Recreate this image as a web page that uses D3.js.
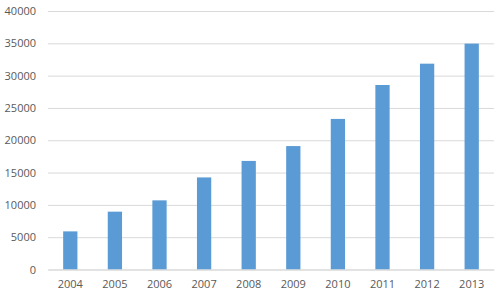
<!DOCTYPE html>
<meta charset="utf-8">
<script src="https://cdn.jsdelivr.net/npm/d3@7"></script>
<style>
  body { margin: 0; background: #fff; }
  .tick text { font-family: "Open Sans", sans-serif; font-size: 11px; fill: #595959; }
</style>
<div id="chart"></div>
<script>
// data
const years = ["2004", "2005", "2006", "2007", "2008", "2009", "2010", "2011", "2012", "2013"];
const counts = [5900, 8950, 10700, 14250, 16800, 19100, 23300, 28550, 31850, 34950];
const yTicks = [0, 5000, 10000, 15000, 20000, 25000, 30000, 35000, 40000];

const width = 500, height = 298;
const margin = {top: 11, right: 6, bottom: 28.5, left: 48};

const svg = d3.select("#chart").append("svg")
  .attr("width", width)
  .attr("height", height);

const x = d3.scaleBand()
  .domain(years)
  .range([margin.left, width - margin.right])
  .paddingInner(0.68)
  .paddingOuter(0.34);

const y = d3.scaleLinear()
  .domain([0, 40000])
  .range([height - margin.bottom, margin.top]);

// gridlines + y labels
const yAxis = svg.append("g")
  .attr("transform", `translate(${margin.left},0)`)
  .call(d3.axisLeft(y).tickValues(yTicks).tickFormat(d3.format("d"))
    .tickSize(-(width - margin.left - margin.right)).tickPadding(12));
yAxis.select(".domain").remove();
yAxis.selectAll(".tick line").attr("stroke", "#d9d9d9");

// bars
svg.append("g").selectAll("rect")
  .data(counts)
  .join("rect")
  .attr("x", (d, i) => x(years[i]))
  .attr("y", d => y(d))
  .attr("width", x.bandwidth())
  .attr("height", d => y(0) - y(d))
  .attr("fill", "#5b9bd5");

// x axis
const xAxis = svg.append("g")
  .attr("transform", `translate(0,${y(0)})`)
  .call(d3.axisBottom(x).tickSize(0).tickPadding(11));
xAxis.select(".domain").attr("stroke", "#d9d9d9");
</script>
